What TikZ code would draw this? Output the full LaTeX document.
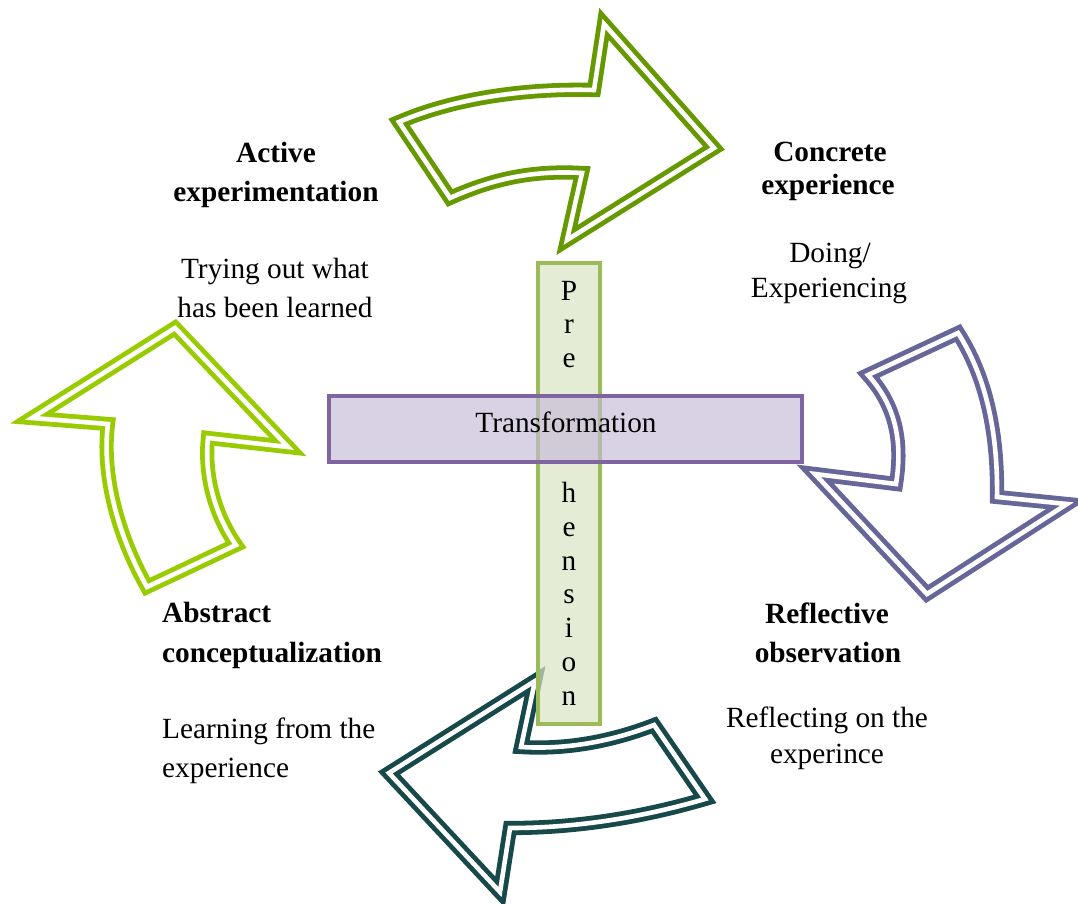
\documentclass[tikz,border=0pt]{standalone}
\usepackage{fontspec}
\setmainfont{Liberation Serif}
\definecolor{cOlive}{RGB}{102,153,0}
\definecolor{cSlate}{RGB}{102,102,153}
\definecolor{cTeal}{RGB}{23,72,74}
\definecolor{cLime}{RGB}{153,204,0}
\definecolor{barG}{RGB}{155,187,89}
\definecolor{barGfill}{RGB}{216,228,195}
\definecolor{barP}{RGB}{128,100,162}
\definecolor{barPfill}{RGB}{197,186,215}
\tikzset{
  arrowshape/.style={draw=#1, double=white, line width=4.8pt, double distance=4.6pt,
    line join=miter, miter limit=20, fill=white},
  lbl/.style={font=\fontsize{29.3}{38}\selectfont, inner sep=0pt, anchor=base},
  blbl/.style={lbl, font=\fontsize{29.3}{38}\selectfont\bfseries},
  prebar/.style={draw=barG, line width=3.6pt, fill=barGfill, fill opacity=0.7,
    minimum width=62pt, minimum height=461pt, inner sep=0pt},
  transbar/.style={draw=barP, line width=3.6pt, fill=barPfill, fill opacity=0.65,
    minimum width=473pt, minimum height=66pt, inner sep=0pt}
}
\begin{document}
\begin{tikzpicture}[x=1pt,y=-1pt]
\useasboundingbox (0,0) rectangle (1078,904);
% top arrow (olive)
\draw[arrowshape=cOlive] (399,122) .. controls (450,100) and (520,88) .. (594,90)
  -- (604,24) -- (714,148) -- (567,240) -- (582,173)
  .. controls (530,170) and (490,180) .. (450,198) -- cycle;
% right arrow (slate)
\draw[arrowshape=cSlate] (868,375) -- (958,333)
  .. controls (985,375) and (998,430) .. (997,497)
  -- (1067,504) -- (927,594) -- (815,474) -- (896,484)
  .. controls (903,440) and (895,405) .. cycle;
% bottom arrow (teal)
\draw[arrowshape=cTeal] (510,828) -- (500,892) -- (389,773) -- (535,681) -- (521,747)
  .. controls (570,750) and (615,740) .. (654,725) -- (705,799)
  .. controls (640,818) and (575,828) .. cycle;
% left arrow (lime)
\draw[arrowshape=cLime] (175,328) -- (288,447) -- (208,438)
  .. controls (204,475) and (215,515) .. (236,545) -- (147,587)
  .. controls (115,530) and (102,470) .. (108,424) -- (32,418) -- cycle;
% bars
\node[prebar] (pbar) at (569,493.5) {};
\node[transbar] (tbar) at (565.5,429) {};
\node[lbl] (trans) at (566,432) {Transformation};
\foreach \ch/\k in {P/0, r/1, e/2, h/6, e/7, n/8, s/9, i/10, o/11, n/12}
  \node[lbl] (pre\k) at (569,300+33.75*\k) {\ch};
% labels
\node[blbl] (ae1) at (276,163) {Active};
\node[blbl] (ae2) at (276,201) {experimentation};
\node[lbl] (ae3) at (275,278) {Trying out what};
\node[lbl] (ae4) at (275,317) {has been learned};
\node[blbl] (ce1) at (830,162) {Concrete};
\node[blbl] (ce2) at (828,195) {experience};
\node[lbl] (ce3) at (830,262) {Doing/};
\node[lbl] (ce4) at (829,297) {Experiencing};
\node[blbl, anchor=base west] (ac1) at (162,622) {Abstract};
\node[blbl, anchor=base west] (ac2) at (162,662) {conceptualization};
\node[lbl, anchor=base west] (ac3) at (162,738) {Learning from the};
\node[lbl, anchor=base west] (ac4) at (162,777) {experience};
\node[blbl] (ro1) at (827,623) {Reflective};
\node[blbl] (ro2) at (828,662) {observation};
\node[lbl] (ro3) at (827,727) {Reflecting on the};
\node[lbl] (ro4) at (827,763) {experince};
\end{tikzpicture}
\end{document}
